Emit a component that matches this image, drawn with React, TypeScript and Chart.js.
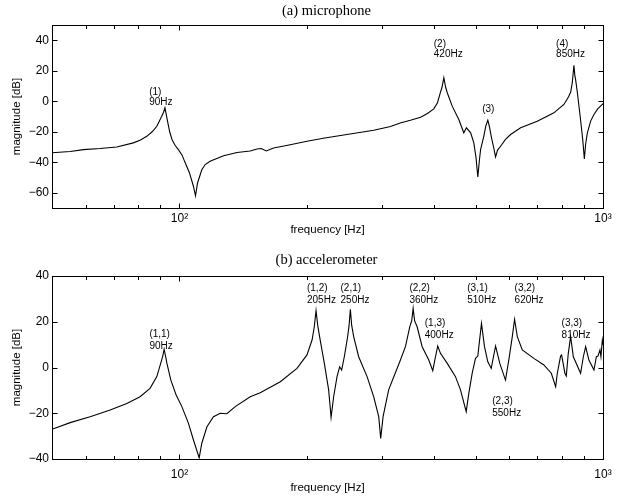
import React, { useEffect, useRef } from 'react';
import { Chart, registerables } from 'chart.js';

Chart.register(...registerables);

// ---- Data: (a) microphone ----
const micFreq = [50, 55.2, 59.3, 64.9, 71.1, 77.8, 80.7, 83.7, 86.2, 88.4, 90.8, 91.7, 92.4, 93.7, 94.8, 96.0, 97.7, 99.4, 101.5, 102.8, 105.6, 107.9, 109.1, 110.3, 112.9, 115, 118.1, 127.1, 136.7, 146.9, 152.4, 156, 160.3, 166.8, 182.6, 200, 218.6, 240, 261.6, 287.5, 315, 332, 351, 371, 385, 398.5, 406.6, 413, 417, 420.9, 424.8, 428.8, 440.5, 456.6, 469.1, 476, 487, 495.4, 501.4, 506.3, 511, 514, 523, 529, 534.6, 539.6, 544.6, 551.5, 557.6, 563.7, 573, 588.5, 605, 639, 699.4, 765.7, 808.6, 829.3, 839, 846, 853.8, 858, 861.8, 870, 885, 895.5, 903.6, 910, 918.5, 935, 952, 971.5, 996.5, 1000];
const micDb = [-33.8, -33, -31.7, -31, -30, -27.3, -25.5, -23, -20, -16.4, -9.8, -7.2, -4.3, -13.1, -20, -25.1, -29, -31.7, -35.5, -39.4, -47, -55.9, -62, -53.6, -44.9, -41.5, -39.4, -35.7, -33.6, -32.6, -31.3, -31, -32.6, -30.6, -28.5, -26.2, -24.3, -22.5, -20.8, -19, -16.5, -14.2, -12.5, -10.5, -8, -5, -1, 5.6, 9.5, 15.4, 9.5, 5.6, -3.2, -12, -20.7, -17.4, -20.7, -27.3, -37, -49.7, -38, -31.7, -23, -16, -12.4, -17, -23, -30, -36.5, -32, -29.5, -25, -21.8, -17.4, -13.1, -7.6, -2.1, 3, 6, 12, 23.6, 17, 14, 5.6, -12, -25, -37.8, -28, -20.7, -13, -8.7, -5, -2.1, -1.5];

// ---- Data: (b) accelerometer ----
const accFreq = [50, 55.2, 61.5, 68.6, 75.1, 80.7, 85.2, 88.4, 90.5, 91.3, 92, 92.7, 93.4, 95.4, 98.2, 101.3, 105, 107.9, 111.3, 112.9, 116.1, 120.3, 124.8, 129.4, 135.4, 146.9, 155.1, 173, 189.4, 200, 205.6, 208, 210.1, 212, 214.2, 219.8, 225, 228, 231.2, 235.5, 238.9, 241.5, 245, 249.5, 251.5, 253.2, 255, 257.8, 264.9, 277.3, 287.5, 295.4, 298.6, 302.5, 311.8, 332.4, 341.6, 349.7, 353.5, 356.2, 359, 364, 374.1, 387.8, 396.3, 402.2, 407.2, 413.3, 428.8, 448.4, 460.8, 475.3, 482.1, 491.1, 500, 506.3, 516.5, 525, 534.6, 544.6, 557.6, 570.6, 588.5, 599.3, 610.7, 618.3, 627.6, 644.8, 686.6, 725, 755, 773, 780.1, 794, 798.5, 812.8, 819, 828, 838.6, 851, 885.4, 898.6, 910, 926.2, 952, 964.6, 973, 983.6, 988.9, 996.5, 1000];
const accDb = [-27, -24.1, -21.5, -18.6, -15.7, -12.8, -9.1, -4, 2.5, 5, 8, 5, 1.8, -5.5, -12, -17.1, -24.4, -31.7, -39.5, -33.1, -25.9, -21.5, -20, -20.2, -17.1, -12.8, -11, -6.2, -0.4, 5.5, 12, 17.5, 24.8, 18.5, 13.5, 1.8, -9.8, -21.8, -12.8, -4, 0.3, -1.1, 4.7, 13.5, 18.5, 25.4, 18.5, 13.5, 4.7, -4, -12.8, -21.5, -31, -21.5, -9.8, 3.3, 9.1, 17.8, 20.5, 25.9, 20.5, 17.8, 9.1, 3.3, -1.4, 4.7, 9.4, 6.2, 1.8, -4, -9.8, -19.3, -11.3, -2.5, 4, 5, 19.3, 9.1, 2.5, -0.4, 9.4, 1.8, -5.5, 3.3, 13.5, 21.1, 13.5, 7.7, 4, 1.1, -2.5, -8.4, -2.5, 5, 5.5, -2.5, -3.7, 6.2, 13.5, 4.7, -2.5, 4.7, 9.1, 3.3, -1.1, 4.7, 5, 7.7, 4.7, 12, 10];

// ---- Ticks ----
const xTickValues = [60, 70, 80, 90, 100, 200, 300, 400, 500, 600, 700, 800, 900, 1000];
const xMajorTicks = [100, 1000];
const xTickLabels: Record<number, string> = { 100: '10\u00B2', 1000: '10\u00B3' };
const micYTicks = [-60, -40, -20, 0, 20, 40];
const accYTicks = [-40, -20, 0, 20, 40];

// ---- Annotations (text, anchored in data coordinates) ----
const micNotes = [
  { lines: ['(1)', '90Hz'], f: 84.8, db: 6.1 },
  { lines: ['(2)', '420Hz'], f: 398.5, db: 37.4 },
  { lines: ['(3)'], f: 518.6, db: -5.4 },
  { lines: ['(4)', '850Hz'], f: 775, db: 37.4 },
];
const accNotes = [
  { lines: ['(1,1)', '90Hz'], f: 84.9, db: 14.4 },
  { lines: ['(1,2)', '205Hz'], f: 200, db: 34.5 },
  { lines: ['(2,1)', '250Hz'], f: 240, db: 34.5 },
  { lines: ['(2,2)', '360Hz'], f: 349, db: 34.5 },
  { lines: ['(1,3)', '400Hz'], f: 379.4, db: 19.2 },
  { lines: ['(3,1)', '510Hz'], f: 478, db: 34.5 },
  { lines: ['(3,2)', '620Hz'], f: 618.3, db: 34.5 },
  { lines: ['(3,3)', '810Hz'], f: 798.5, db: 19.2 },
  { lines: ['(2,3)', '550Hz'], f: 547.6, db: -14.6 },
];

const SANS = '"Liberation Sans", Arial, Helvetica, sans-serif';
const SERIF = '"Liberation Serif", "Times New Roman", serif';

type PanelProps = {
  freq: number[];
  db: number[];
  yMin: number;
  yMax: number;
  yTicks: number[];
  title: string;
  notes: { lines: string[]; f: number; db: number }[];
  noteGap: number;
  padTop: number;
  xHeight: number;
  xTickPad: number;
  xTitlePad: number;
  titleY: number;
};

function Panel(p: PanelProps) {
  const ref = useRef<HTMLCanvasElement | null>(null);
  useEffect(() => {
    if (!ref.current) return;
    const overlay = {
      id: 'overlay',
      afterDraw(chart: any) {
        const { ctx, chartArea: a, scales } = chart;
        const xs = scales.x, ys = scales.y;
        ctx.save();
        ctx.strokeStyle = '#000';
        ctx.lineWidth = 1;
        const L = Math.round(a.left) + 0.5, R = Math.round(a.right) + 0.5;
        const T = Math.round(a.top) + 0.5, B = Math.round(a.bottom) + 0.5;
        ctx.strokeRect(L, T, R - L, B - T);
        ctx.beginPath();
        for (const v of xTickValues) {
          const px = Math.round(xs.getPixelForValue(v)) + 0.5;
          const len = xMajorTicks.includes(v) ? 5 : 3.5;
          ctx.moveTo(px, B); ctx.lineTo(px, B - len);
          ctx.moveTo(px, T); ctx.lineTo(px, T + len);
        }
        for (const v of p.yTicks) {
          const py = Math.round(ys.getPixelForValue(v)) + 0.5;
          ctx.moveTo(L, py); ctx.lineTo(L + 5, py);
          ctx.moveTo(R, py); ctx.lineTo(R - 5, py);
        }
        ctx.stroke();
        ctx.fillStyle = '#000';
        ctx.font = `14.5px ${SERIF}`;
        ctx.textAlign = 'center';
        ctx.textBaseline = 'middle';
        ctx.fillText(p.title, 326.5, p.titleY);
        ctx.font = `10px ${SANS}`;
        ctx.textAlign = 'left';
        for (const n of p.notes) {
          const px = xs.getPixelForValue(n.f);
          const py = ys.getPixelForValue(n.db);
          n.lines.forEach((t, i) => ctx.fillText(t, px, py + i * p.noteGap));
        }
        ctx.restore();
      },
    };
    const chart = new Chart(ref.current, {
      type: 'scatter',
      data: {
        datasets: [
          {
            data: p.freq.map((f, i) => ({ x: f, y: p.db[i] })),
            showLine: true,
            borderColor: '#000',
            backgroundColor: '#000',
            borderWidth: 1.1,
            pointRadius: 0,
            tension: 0,
          },
        ],
      },
      options: {
        animation: false,
        responsive: false,
        events: [],
        layout: { padding: { top: p.padTop, right: 21, left: 0, bottom: 0 } },
        plugins: { legend: { display: false }, tooltip: { enabled: false }, title: { display: false } },
        scales: {
          x: {
            type: 'logarithmic',
            min: 50,
            max: 1000,
            grid: { display: false, drawTicks: false },
            border: { display: false },
            afterBuildTicks: (s: any) => {
              s.ticks = xTickValues.map((v) => ({ value: v, major: xMajorTicks.includes(v) }));
            },
            afterFit: (s: any) => { s.height = p.xHeight; },
            ticks: {
              autoSkip: false,
              maxRotation: 0,
              minRotation: 0,
              padding: p.xTickPad,
              color: '#000',
              font: { family: SANS, size: 12 },
              callback: (v: any) => xTickLabels[Number(v)] ?? '',
            },
            title: {
              display: true,
              text: 'frequency [Hz]',
              color: '#000',
              font: { family: SANS, size: 11.5 },
              padding: { top: 0, bottom: p.xTitlePad },
            },
          },
          y: {
            type: 'linear',
            min: p.yMin,
            max: p.yMax,
            grid: { display: false, drawTicks: false },
            border: { display: false },
            afterBuildTicks: (s: any) => {
              s.ticks = p.yTicks.map((v) => ({ value: v }));
            },
            afterFit: (s: any) => { s.width = 52; },
            ticks: {
              padding: 3,
              color: '#000',
              font: { family: SANS, size: 12 },
              callback: (v: any) => (Number(v) < 0 ? '\u2212' : '') + Math.abs(Number(v)),
            },
            title: {
              display: true,
              text: 'magnitude [dB]',
              color: '#000',
              font: { family: SANS, size: 11.5 },
              padding: { top: 10, bottom: 0 },
            },
          },
        },
      },
      plugins: [overlay],
    } as any);
    return () => chart.destroy();
  }, []);
  return <canvas ref={ref} width={624} height={248} style={{ display: 'block', width: 624, height: 248 }} />;
}

export default function App() {
  return (
    <div style={{ position: 'absolute', left: 0, top: 0, width: 624, height: 496, background: '#fff' }}>
      <Panel freq={micFreq} db={micDb} yMin={-70} yMax={50} yTicks={micYTicks} title="(a) microphone" notes={micNotes} noteGap={10.5} padTop={25} xHeight={40} xTickPad={3} xTitlePad={11} titleY={11.5} />
      <Panel freq={accFreq} db={accDb} yMin={-40} yMax={40} yTicks={accYTicks} title="(b) accelerometer" notes={accNotes} noteGap={12} padTop={28} xHeight={37} xTickPad={8} xTitlePad={1} titleY={12} />
    </div>
  );
}
